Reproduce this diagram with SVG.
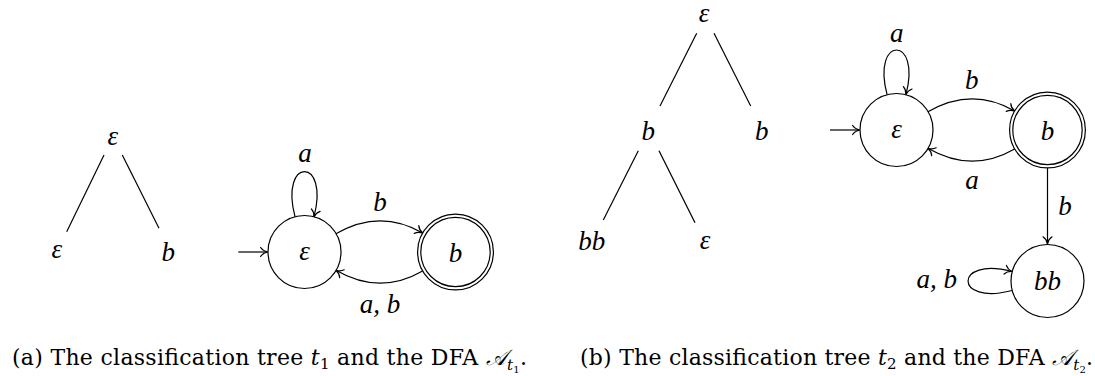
<svg xmlns="http://www.w3.org/2000/svg" width="1095" height="376" viewBox="0 0 1095 376">
<style>
.m{font-family:"Liberation Serif","Times New Roman",serif;font-style:italic;font-size:27px;fill:#000;text-anchor:middle}
.cap{font-family:"DejaVu Serif",serif;font-size:22px;fill:#000}
.ln{stroke:#000;stroke-width:1.2;fill:none}
.st{stroke:#000;stroke-width:1.2;fill:#fff}
.ed{stroke:#000;stroke-width:1.2;fill:none;marker-end:url(#to)}
</style>
<defs>
<marker id="to" markerUnits="userSpaceOnUse" viewBox="-9 -7 11 14" refX="0" refY="0" markerWidth="11" markerHeight="14" orient="auto" overflow="visible">
<path d="M-7,-4.5 C-5,-1.5 -1.5,-0.3 0,0 C-1.5,0.3 -5,1.5 -7,4.5" fill="none" stroke="#000" stroke-width="1.2" stroke-linecap="round"/>
</marker>
</defs>

<!-- Tree t1 -->
<g id="tree1-edges" class="ln">
<line x1="104" y1="155" x2="66.7" y2="231.7"/>
<line x1="122.3" y1="155" x2="159" y2="228.3"/>
</g>
<g id="t1-root"><text class="m" x="112.7" y="145">ε</text></g>
<g id="t1-leaf-eps"><text class="m" x="56.7" y="258">ε</text></g>
<g id="t1-leaf-b"><text class="m" x="168.3" y="261">b</text></g>

<!-- DFA A_t1 -->
<g id="connectors-a">
<line class="ed" x1="238.3" y1="252" x2="267.6" y2="252"/>
<path class="ed" d="M295.1,216.9 C278.9,156.6 330.1,156.6 313.9,216.9"/>
<path class="ed" d="M335.9,233.8 C365.3,216.8 393.2,216 422.6,233"/>
<path class="ed" d="M422.6,271 C393.2,288 365.3,287.2 335.9,270.2"/>
</g>
<g id="a-state-eps">
<circle class="st" cx="304.5" cy="252" r="36.5"/>
<text class="m" x="304.5" y="259.5">ε</text>
</g>
<g id="a-state-b">
<circle class="st" cx="455.5" cy="252" r="37.9"/>
<circle class="ln" cx="455.5" cy="252" r="34.7"/>
<text class="m" x="455.5" y="262">b</text>
</g>
<g id="a-labels">
<text class="m" x="305" y="161.5">a</text>
<text class="m" x="380" y="211">b</text>
<text class="m" x="380" y="313">a, b</text>
</g>

<!-- Tree t2 -->
<g id="tree2-edges" class="ln">
<line x1="696.7" y1="33.3" x2="660" y2="106"/>
<line x1="714" y1="33.3" x2="750.7" y2="106"/>
<line x1="638.3" y1="150.7" x2="603.3" y2="220"/>
<line x1="659" y1="150.7" x2="695" y2="222.7"/>
</g>
<g id="t2-root"><text class="m" x="704" y="22">ε</text></g>
<g id="t2-b-inner"><text class="m" x="648.3" y="140">b</text></g>
<g id="t2-b-leaf"><text class="m" x="761.7" y="140">b</text></g>
<g id="t2-bb-leaf"><text class="m" x="591.7" y="250">bb</text></g>
<g id="t2-eps-leaf"><text class="m" x="705" y="249">ε</text></g>

<!-- DFA A_t2 -->
<g id="connectors-b">
<line class="ed" x1="830" y1="130" x2="859.6" y2="130"/>
<path class="ed" d="M887.1,94.6 C871.2,35.1 921.8,35.1 905.9,94.6"/>
<path class="ed" d="M927.9,111.8 C957.3,94.8 985.2,94 1014.6,111"/>
<path class="ed" d="M1014.6,149 C985.2,166 957.3,165.2 927.9,148.2"/>
<line class="ed" x1="1047.5" y1="168" x2="1047.5" y2="243.8"/>
<path class="ed" d="M1012,290.5 C953.4,306.2 953.4,255.8 1012,271.5"/>
</g>
<g id="b-state-eps">
<circle class="st" cx="896.5" cy="130" r="36.5"/>
<text class="m" x="896.5" y="137.5">ε</text>
</g>
<g id="b-state-b">
<circle class="st" cx="1047.5" cy="130" r="37.9"/>
<circle class="ln" cx="1047.5" cy="130" r="34.7"/>
<text class="m" x="1047.5" y="140">b</text>
</g>
<g id="b-state-bb">
<circle class="st" cx="1047.5" cy="281" r="36.5"/>
<text class="m" x="1047.5" y="290">bb</text>
</g>
<g id="b-labels">
<text class="m" x="896.7" y="41.5">a</text>
<text class="m" x="971.7" y="88.5">b</text>
<text class="m" x="972" y="189">a</text>
<text class="m" x="1065" y="215">b</text>
<text class="m" x="936.7" y="288">a, b</text>
</g>

<!-- Captions -->
<g id="caption-a">
<text class="cap" x="12" y="365" textLength="515" lengthAdjust="spacing">(a) The classification tree <tspan font-style="italic">t</tspan><tspan font-size="15" dy="4">1</tspan><tspan dy="-4"> and the DFA </tspan><tspan font-style="italic">𝒜</tspan><tspan font-style="italic" font-size="15" dy="5">t</tspan><tspan font-size="10" dy="3">1</tspan><tspan dy="-8">.</tspan></text>
</g>
<g id="caption-b">
<text class="cap" x="580" y="365" textLength="513" lengthAdjust="spacing">(b) The classification tree <tspan font-style="italic">t</tspan><tspan font-size="15" dy="4">2</tspan><tspan dy="-4"> and the DFA </tspan><tspan font-style="italic">𝒜</tspan><tspan font-style="italic" font-size="15" dy="5">t</tspan><tspan font-size="10" dy="3">2</tspan><tspan dy="-8">.</tspan></text>
</g>
</svg>
